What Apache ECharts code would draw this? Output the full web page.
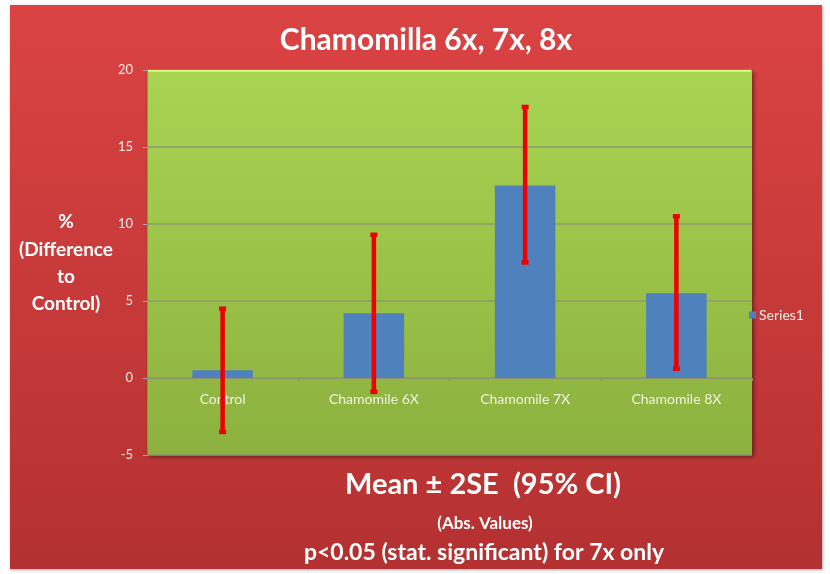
<!DOCTYPE html>
<html><head><meta charset="utf-8">
<script src="https://cdn.jsdelivr.net/npm/echarts@6/dist/echarts.min.js"></script>
<style>html,body{margin:0;padding:0;background:#fff;}#c{width:830px;height:574px;}</style>
</head><body><div id="c"></div>
<script>
const categories = ['Control', 'Chamomile 6X', 'Chamomile 7X', 'Chamomile 8X'];
const means = [0.5, 4.2, 12.5, 5.5];
const errLow = [-3.5, -0.9, 7.5, 0.6];
const errHigh = [4.5, 9.3, 17.6, 10.5];
const yTicks = { min: -5, max: 20, interval: 5 };

const FONT = 'Lato, "Open Sans", sans-serif';
const chart = echarts.init(document.getElementById('c'));
const errData = categories.map((c, i) => [i, errLow[i], errHigh[i]]);
const labelData = categories.map((c, i) => [i, 0]);

function txt(x, y, s, font) {
  return { type: 'text', x: x, y: y, z: 5,
    style: { text: s, fill: '#fff', font: font, align: 'center', verticalAlign: 'middle' } };
}

chart.setOption({
  backgroundColor: 'transparent',
  animation: false,
  graphic: [
    { type: 'rect', z: -10, left: 10, top: 5,
      shape: { width: 812, height: 564 },
      style: { fill: new echarts.graphic.LinearGradient(0, 0, 0, 1, [
        { offset: 0, color: '#db4343' }, { offset: 1, color: '#b43131' }]),
        shadowBlur: 3, shadowColor: 'rgba(0,0,0,0.35)', shadowOffsetX: 1, shadowOffsetY: 1 } },
    { type: 'line', z: 5, shape: { x1: 148, y1: 71, x2: 751, y2: 71 },
      style: { stroke: '#d6f27c', lineWidth: 2 } },
    txt(426, 40, 'Chamomilla 6x, 7x, 8x', 'bold 30px ' + FONT),
    txt(483, 485, 'Mean ± 2SE  (95% CI)', 'bold 29px ' + FONT),
    txt(485, 524, '(Abs. Values)', 'bold 17px ' + FONT),
    txt(484, 553, 'p<0.05 (stat. significant) for 7x only', 'bold 23px ' + FONT),
    txt(66, 222, '%', 'bold 19px ' + FONT),
    txt(66, 250, '(Difference', 'bold 19px ' + FONT),
    txt(66, 277, 'to', 'bold 19px ' + FONT),
    txt(66, 304, 'Control)', 'bold 19px ' + FONT)
  ],
  legend: {
    data: ['Series1'], left: 749, top: 308, orient: 'vertical',
    icon: 'rect', itemWidth: 7, itemHeight: 7, itemGap: 4, padding: 0,
    textStyle: { color: '#f4f0e8', fontFamily: FONT, fontSize: 14, padding: [0, 0, 0, -2] }
  },
  grid: {
    left: 147, right: 78, top: 70, bottom: 119, show: true,
    backgroundColor: new echarts.graphic.LinearGradient(0, 0, 0, 1, [
      { offset: 0, color: '#a9d452' }, { offset: 1, color: '#8cb13f' }]),
    borderWidth: 0,
    shadowBlur: 4, shadowColor: 'rgba(0,0,0,0.45)', shadowOffsetX: 2, shadowOffsetY: 2
  },
  xAxis: {
    type: 'category', data: categories,
    axisLine: { onZero: true, lineStyle: { color: '#8a9270', width: 1 } },
    axisTick: { show: true, length: 3, lineStyle: { color: '#8a9270' } },
    axisLabel: { show: false }
  },
  yAxis: {
    type: 'value', min: yTicks.min, max: yTicks.max, interval: yTicks.interval,
    axisLine: { show: true, lineStyle: { color: '#8a8a8a' } },
    axisTick: { show: true, length: 4, lineStyle: { color: '#aaa' } },
    axisLabel: { color: '#f2ece6', fontFamily: FONT, fontSize: 13, margin: 14 },
    splitLine: { lineStyle: { color: '#8d9a6e', width: 1.5 } }
  },
  series: [
    { name: 'Series1', type: 'bar', data: means, barWidth: '40%',
      itemStyle: { color: '#4f81bd' } },
    { name: 'catLabels', type: 'custom', data: labelData, z: 3, silent: true,
      renderItem: function (params, api) {
        const p = api.coord([api.value(0), api.value(1)]);
        return { type: 'text', x: p[0], y: p[1] + 21,
          style: { text: categories[params.dataIndex], fill: '#f2f0e0',
            font: '14px ' + FONT, align: 'center', verticalAlign: 'middle' } };
      }
    },
    { name: 'err', type: 'custom', data: errData, z: 10,
      renderItem: function (params, api) {
        const x = api.value(0);
        const lo = api.coord([x, api.value(1)]);
        const hi = api.coord([x, api.value(2)]);
        const cap = 3.5;
        const st = { stroke: '#ee0000', lineWidth: 4.5 };
        return { type: 'group', children: [
          { type: 'line', shape: { x1: hi[0], y1: hi[1], x2: lo[0], y2: lo[1] }, style: st },
          { type: 'line', shape: { x1: hi[0] - cap, y1: hi[1], x2: hi[0] + cap, y2: hi[1] }, style: st },
          { type: 'line', shape: { x1: lo[0] - cap, y1: lo[1], x2: lo[0] + cap, y2: lo[1] }, style: st }
        ] };
      }
    }
  ]
});
</script></body></html>
